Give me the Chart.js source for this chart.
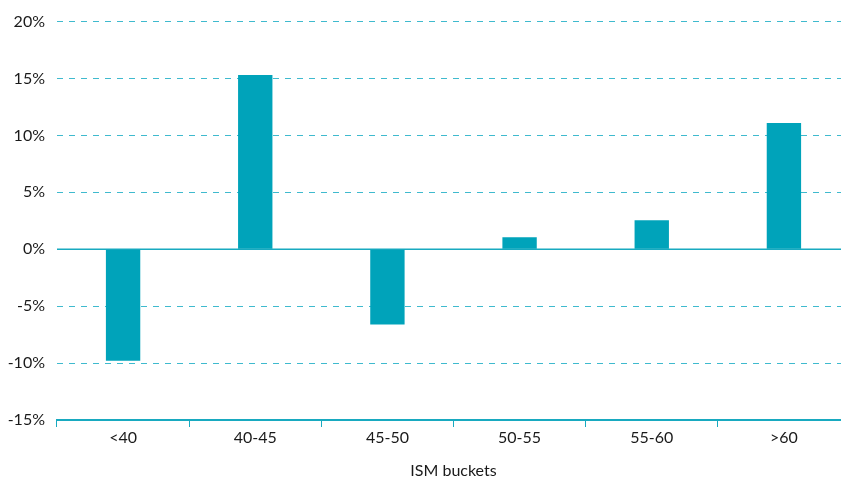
<!DOCTYPE html>
<html><head><meta charset="utf-8">
<script src="https://cdn.jsdelivr.net/npm/chart.js@4"></script>
<style>
html,body{margin:0;padding:0;overflow:hidden;background:#fff;}
#wrap{width:850px;height:482px;position:relative;}
</style></head>
<body><div id="wrap"><canvas id="c"></canvas></div>
<script>
const categories = ["<40", "40-45", "45-50", "50-55", "55-60", ">60"];
const values = [-9.8, 15.3, -6.6, 1.05, 2.55, 11.1];
const yTicks = [-15, -10, -5, 0, 5, 10, 15, 20];
const xTitle = "ISM buckets";

const teal = "#00A3BA";
const zeroLine = {
  id: "zeroLine",
  beforeDatasetsDraw(chart) {
    const {ctx, chartArea, scales} = chart;
    const y = scales.y.getPixelForValue(0);
    ctx.save();
    ctx.strokeStyle = "#18aac0";
    ctx.lineWidth = 1.5;
    ctx.beginPath();
    ctx.moveTo(chartArea.left, y);
    ctx.lineTo(chartArea.right, y);
    ctx.stroke();
    ctx.restore();
  }
};

new Chart(document.getElementById("c"), {
  type: "bar",
  data: { labels: categories, datasets: [{ data: values, backgroundColor: teal, borderWidth: 0, barPercentage: 0.26, categoryPercentage: 1 }] },
  options: {
    responsive: true, maintainAspectRatio: false, animation: false,
    layout: { padding: { top: 19, left: 0, right: 0, bottom: 0 } },
    plugins: { legend: { display: false }, tooltip: { enabled: false } },
    scales: {
      x: {
        offset: true,
        afterFit(axis) { axis.height = 62; },
        grid: { offset: true, drawOnChartArea: false, drawTicks: true, tickLength: 7, color: "#18aac0", lineWidth: 1 },
        border: { display: true, color: "#18aac0", width: 2 },
        ticks: { color: "#1a1a1a", font: { family: "Lato", size: 16 }, padding: 1 },
        title: { display: true, text: xTitle, color: "#1a1a1a", font: { family: "Lato", size: 16 }, padding: { top: 6, bottom: 2 } }
      },
      y: {
        min: -15, max: 20,
        afterFit(axis) { axis.width = 57; },
        afterBuildTicks(axis) { axis.ticks = yTicks.map(v => ({ value: v })); },
        grid: { color: "#3fbace", lineWidth: 1, drawTicks: false },
        border: { display: false, dash: [6, 6] },
        ticks: { color: "#1a1a1a", font: { family: "Lato", size: 16 }, padding: 12, callback: v => v + "%" }
      }
    }
  },
  plugins: [zeroLine]
});
</script></body></html>
